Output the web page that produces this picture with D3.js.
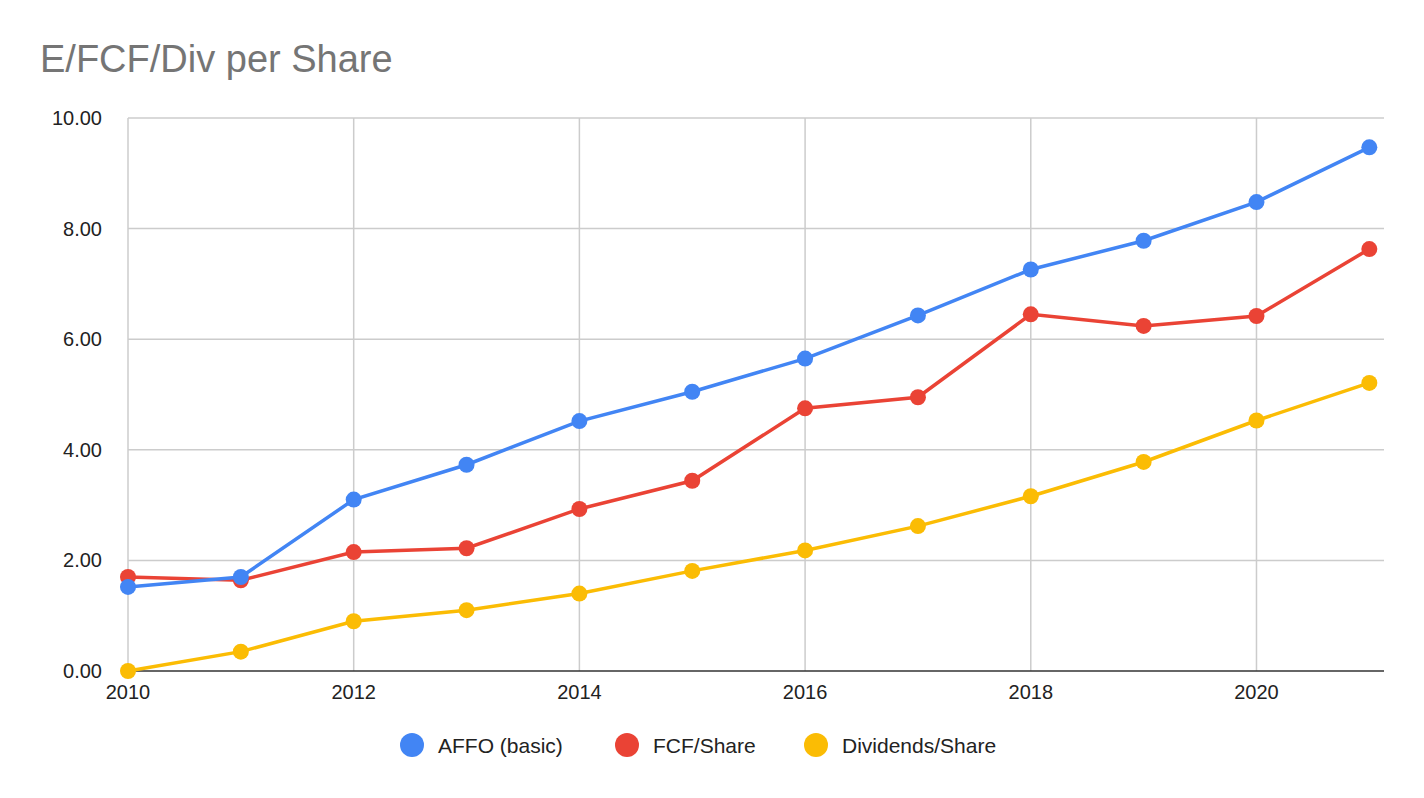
<!DOCTYPE html><html><head><meta charset="utf-8">
<script src="https://cdn.jsdelivr.net/npm/d3@7"></script>
<style>body{margin:0;background:#fff}</style></head><body>
<svg id="c" width="1424" height="798"></svg>
<script>
const years=[2010,2011,2012,2013,2014,2015,2016,2017,2018,2019,2020,2021];
const affo=[1.52,1.70,3.10,3.73,4.52,5.05,5.65,6.43,7.26,7.78,8.48,9.47];
const fcf=[1.70,1.64,2.15,2.22,2.93,3.44,4.75,4.95,6.45,6.24,6.42,7.63];
const div=[0,0.35,0.90,1.10,1.40,1.81,2.18,2.62,3.16,3.78,4.53,5.21];
const seriesNames=["AFFO (basic)","FCF/Share","Dividends/Share"];
const colors=["#4285f4","#ea4335","#fbbc04"];
const yTicks=[0,2,4,6,8,10];
const xTicks=[2010,2012,2014,2016,2018,2020];
const svg=d3.select("#c");
const x=d3.scaleLinear().domain([2010,2021.13]).range([128,1384]);
const y=d3.scaleLinear().domain([0,10]).range([671,118]);
const F="Arial, 'Liberation Sans', sans-serif";
svg.append("text").attr("x",40).attr("y",72).attr("font-family",F).attr("font-size",38).attr("fill","#757575").text("E/FCF/Div per Share");
svg.append("g").selectAll("line").data(yTicks.slice(1)).join("line").attr("x1",128).attr("x2",1384).attr("y1",d=>y(d)).attr("y2",d=>y(d)).attr("stroke","#cccccc").attr("stroke-width",1.5);
svg.append("g").selectAll("line").data(xTicks).join("line").attr("x1",d=>x(d)).attr("x2",d=>x(d)).attr("y1",118).attr("y2",671).attr("stroke","#cccccc").attr("stroke-width",1.5);
svg.append("line").attr("x1",128).attr("x2",1384).attr("y1",671).attr("y2",671).attr("stroke","#333").attr("stroke-width",1.5);
svg.append("g").selectAll("text").data(yTicks).join("text").attr("x",102).attr("y",d=>y(d)+7).attr("text-anchor","end").attr("font-family",F).attr("font-size",20).attr("fill","#222").text(d=>d.toFixed(2));
svg.append("g").selectAll("text").data(xTicks).join("text").attr("x",d=>x(d)).attr("y",699).attr("text-anchor","middle").attr("font-family",F).attr("font-size",20).attr("fill","#222").text(d=>d);
const data=[affo,fcf,div];
const line=d3.line().x((d,i)=>x(years[i])).y(d=>y(d));
[2,1,0].forEach(k=>{
  const g=svg.append("g");
  g.append("path").attr("d",line(data[k])).attr("fill","none").attr("stroke",colors[k]).attr("stroke-width",3.5);
  g.selectAll("circle").data(data[k]).join("circle").attr("cx",(d,i)=>x(years[i])).attr("cy",d=>y(d)).attr("r",8).attr("fill",colors[k]);
});
const lx=[412,627,816];
seriesNames.forEach((n,i)=>{
  svg.append("circle").attr("cx",lx[i]).attr("cy",745).attr("r",12).attr("fill",colors[i]);
  svg.append("text").attr("x",lx[i]+26).attr("y",753).attr("font-family",F).attr("font-size",21).attr("fill","#222").text(n);
});
</script></body></html>
